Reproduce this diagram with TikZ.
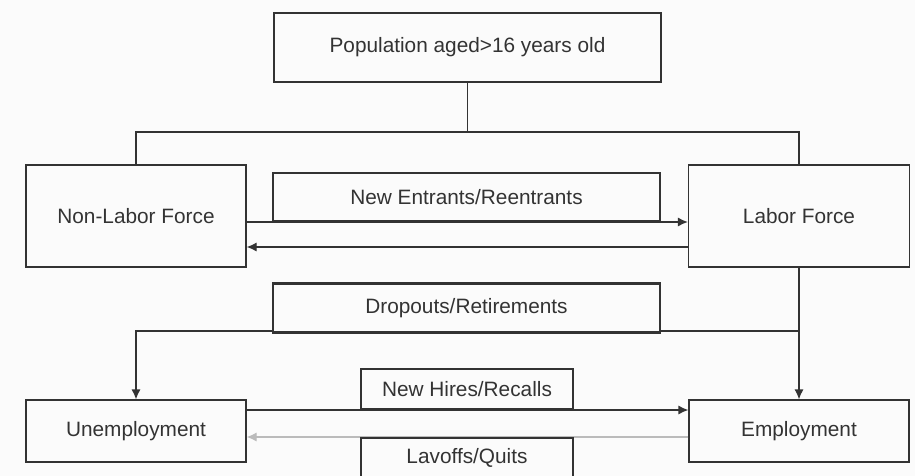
\documentclass[tikz,border=0pt]{standalone}
\usepackage{fontspec}
\setmainfont{Liberation Sans}
\usetikzlibrary{arrows.meta}

\definecolor{ink}{HTML}{333333}
\definecolor{paper}{HTML}{FBFBFB}
\definecolor{faint}{HTML}{BBBBBB}

\begin{document}
\begin{tikzpicture}[x = 0.5pt, y = -0.5pt,
    every node/.style = {font = \fontsize{10.4}{12}\selectfont, text = ink},
    stock/.style = {draw = ink, line width = 0.6pt, fill = paper,
      inner sep = 0pt},
    rate/.style = {draw = ink, line width = 1.2pt, fill = paper,
      inner sep = 0pt, minimum width = 193.5pt},
    flow/.style = {draw = ink, line width = 0.6pt,
      -{Latex[length = 5pt, width = 4.5pt]}}]

  \fill[paper] (0, 0) rectangle (915, 476);
  \useasboundingbox (0, 0) rectangle (915, 476);

  \node[stock, minimum width = 193.5pt, minimum height = 34.5pt] (pop)
    at (467.5, 47.5) {Population aged>16 years old};

  \node[stock, minimum width = 110pt, minimum height = 51pt] (nlf)
    at (136, 216) {Non-Labor Force};
  \node[stock, minimum width = 110.5pt, minimum height = 51pt] (lf)
    at (799, 216) {Labor Force};

  \node[stock, minimum width = 110pt, minimum height = 31pt] (unemp)
    at (136, 431) {Unemployment};
  \node[stock, minimum width = 110pt, minimum height = 31pt] (emp)
    at (799, 431) {Employment};

  \coordinate (split) at (467.5, 132);
  \coordinate (out) at (799, 331);

  \draw[ink, line width = 0.6pt] (pop) -- (split);
  \draw[ink, line width = 0.6pt] (nlf.north) |- (split) -| (lf.north);

  \draw[flow] ([yshift = -3pt]nlf.east) -- ([yshift = -3pt]lf.west);
  \draw[flow] ([yshift = -15.5pt]lf.west) -- ([yshift = -15.5pt]nlf.east);

  \draw[flow] (lf.south) -- (emp.north);
  \draw[flow] (out) -| (unemp.north);

  \draw[flow] ([yshift = 10.5pt]unemp.east) -- ([yshift = 10.5pt]emp.west);
  \draw[flow, draw = faint] ([yshift = -3pt]emp.west)
    -- ([yshift = -3pt]unemp.east);

  \node[rate, minimum height = 24pt] (entr) at (466.5, 197)
    {New Entrants/Reentrants};
  \node[rate, minimum height = 24.5pt] (drop) at (466.5, 308)
    {Dropouts/Retirements};

  \node[rate, minimum width = 106pt, minimum height = 20pt] (hires)
    at (467, 389) {New Hires/Recalls};
  \node[rate, minimum width = 106pt, minimum height = 20pt] (lay)
    at (467, 458) {Lavoffs/Quits};
\end{tikzpicture}
\end{document}
